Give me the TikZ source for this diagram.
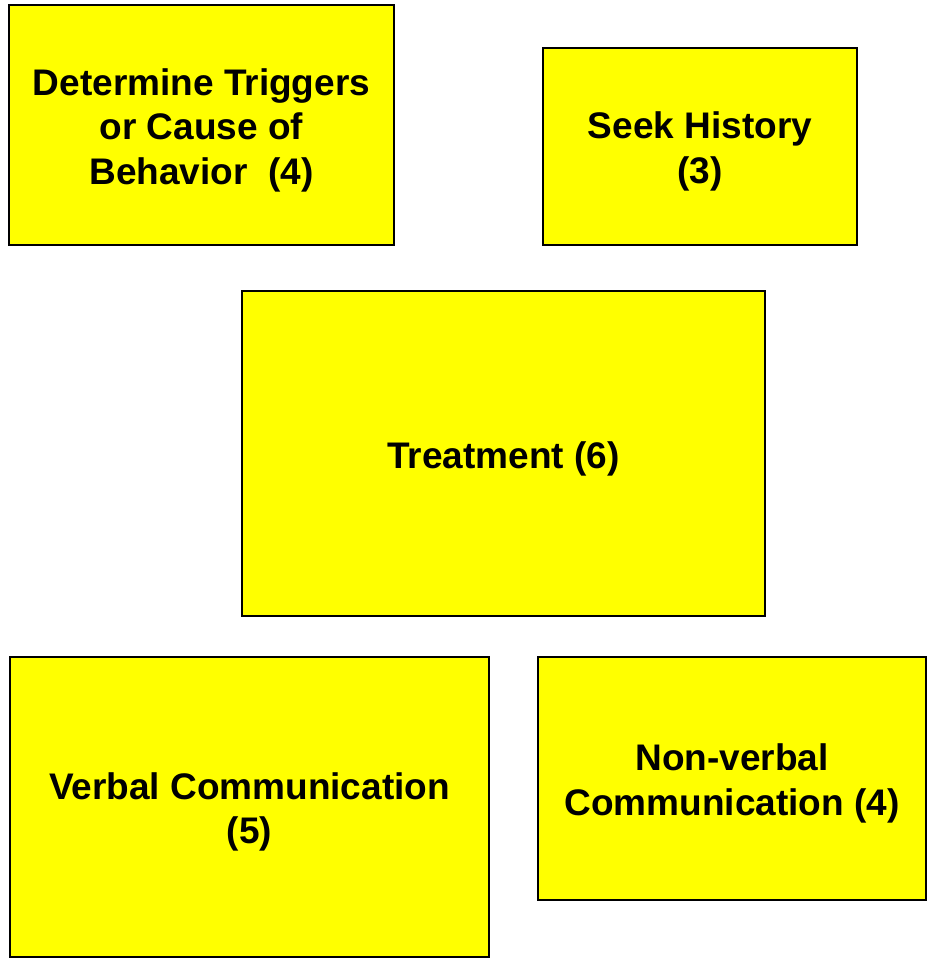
\documentclass[tikz,border=0pt]{standalone}
\usepackage{fontspec}
\setmainfont{Liberation Sans}
\usetikzlibrary{positioning}
\definecolor{boxyellow}{RGB}{255,255,0}
\newcommand*{\padtop}{\rule{0pt}{37pt}}
\tikzset{
  topic/.style={draw=black, fill=boxyellow, line width=1.2pt, inner sep=0pt,
    align=center, font=\bfseries\fontsize{37}{44.4}\selectfont},
}
\begin{document}
\begin{tikzpicture}[x=1pt,y={(0,-1pt)}]
    \useasboundingbox (0,0) rectangle (932,959);
    \node[topic,minimum width=385pt,minimum height=240pt] (triggers) at (201.5,125) {\padtop Determine Triggers\\or Cause of\\Behavior\ \ (4)};
    \node[topic,minimum width=314pt,minimum height=197pt] (history) at (700,146.5) {\padtop Seek History\\(3)};
    \node[topic,minimum width=523pt,minimum height=325pt] (treatment) at (503.5,453.5) {\padtop Treatment (6)};
    \node[topic,minimum width=479pt,minimum height=300pt] (verbal) at (249.5,807) {\padtop Verbal Communication\\(5)};
    \node[topic,minimum width=388pt,minimum height=243pt] (nonverbal) at (732,778.5) {\padtop Non-verbal\\Communication (4)};
  \end{tikzpicture}
\end{document}
